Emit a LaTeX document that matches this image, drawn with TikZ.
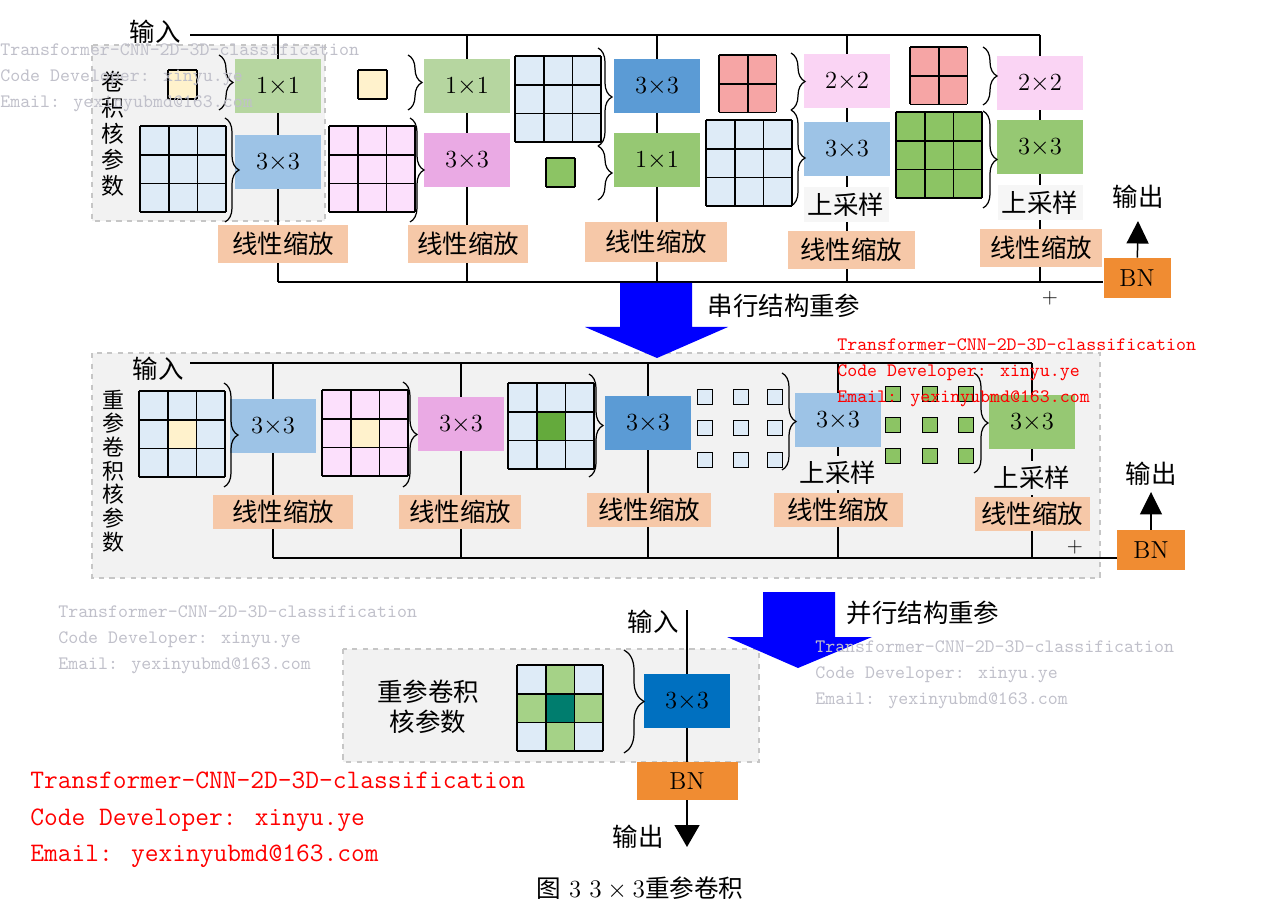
\documentclass[tikz,border=0pt]{standalone}
\usepackage{fontspec}
\usepackage{xcolor}
\newfontfamily\cjk{Noto Sans CJK SC}
\usetikzlibrary{arrows.meta}
\usetikzlibrary{backgrounds}
\usetikzlibrary{decorations.pathreplacing}

\definecolor{lgreen}{RGB}{182,214,160}
\definecolor{mgreen}{RGB}{150,200,115}
\definecolor{lblue}{RGB}{157,195,230}
\definecolor{mblue}{RGB}{91,155,213}
\definecolor{dblue}{RGB}{0,112,192}
\definecolor{orchid}{RGB}{234,170,228}
\definecolor{lpink}{RGB}{250,212,244}
\definecolor{peach}{RGB}{246,200,168}
\definecolor{bnorange}{RGB}{240,140,50}
\definecolor{kblue}{RGB}{222,235,247}
\definecolor{kpink}{RGB}{252,224,252}
\definecolor{kyellow}{RGB}{255,242,204}
\definecolor{kred}{RGB}{246,165,165}
\definecolor{kgreen}{RGB}{140,196,100}
\definecolor{kdgreen}{RGB}{100,170,60}
\definecolor{kteal}{RGB}{0,125,110}
\definecolor{kcross}{RGB}{165,210,135}
\definecolor{panelgray}{RGB}{242,242,242}
\definecolor{upgray}{RGB}{246,246,246}
\definecolor{wmgray}{RGB}{192,192,202}
\definecolor{arrblue}{RGB}{0,0,255}

% kernel grid: x, y (top left), cells, fill
\newcommand{\kgrid}[4]{%
  \fill[#4] (#1,#2) rectangle ++(#3*28.7,#3*28.7);
  \foreach \ii in {0,...,#3}{
    \draw[gline] (#1+\ii*28.7,#2) -- ++(0,#3*28.7);
    \draw[gline] (#1,#2+\ii*28.7) -- ++(#3*28.7,0);
  }}
% one coloured cell of a grid: x, y, column, row, fill
\newcommand{\kcell}[5]{\draw[gline,fill=#5] (#1+#3*28.7,#2+#4*28.7) rectangle ++(28.7,28.7);}

\begin{document}
\begin{tikzpicture}[x=0.02cm, y=-0.02cm,
  font=\fontsize{14pt}{17pt}\selectfont,
  op/.style={minimum width=1.73cm, minimum height=1.08cm, inner sep=0pt},
  zh/.style={font=\cjk\fontsize{14.5pt}{17pt}\selectfont, inner sep=0pt},
  scl/.style={zh, fill=peach, minimum height=0.76cm},
  up/.style={zh, minimum width=1.7cm, minimum height=0.7cm},
  bnbox/.style={fill=bnorange, minimum height=0.8cm, inner sep=0pt},
  bus/.style={line width=0.85pt},
  gline/.style={line width=1pt},
  brc/.style={decorate, decoration={brace, amplitude=0.28cm}, line width=0.7pt},
  panel/.style={fill=panelgray, draw=gray!45, dashed, line width=0.8pt},
  wm/.style={font=\ttfamily\fontsize{10.8pt}{14.8pt}\selectfont, anchor=west, align=left, inner sep=0pt},
  outarrow/.style={bus, -{Triangle[width=0.44cm,length=0.45cm]}}]
\useasboundingbox (0,0) rectangle (1267,911);

\begin{pgfonlayer}{background}
\draw[panel] (92,45) rectangle (325,221);
\draw[panel] (92,353) rectangle (1100,578);
\draw[panel] (343,649) rectangle (759,762);
\end{pgfonlayer}

% series structure
\kgrid{168}{70}{1}{kyellow}
\kgrid{140}{126}{3}{kblue}
\kgrid{358}{70}{1}{kyellow}
\kgrid{329}{126}{3}{kpink}
\kgrid{515}{56}{3}{kblue}
\kgrid{546}{158}{1}{kgreen}
\kgrid{719}{55}{2}{kred}
\kgrid{706}{120}{3}{kblue}
\kgrid{910}{47}{2}{kred}
\kgrid{896}{112}{3}{kgreen}

\node[op, fill=lgreen] (a11) at (278,86) {1$\times$1};
\node[op, fill=lblue] (a12) at (278,162) {3$\times$3};
\node[scl, minimum width=2.6cm] (s1) at (283,244) {线性缩放};
\node[op, fill=lgreen] (a21) at (467,86) {1$\times$1};
\node[op, fill=orchid] (a22) at (467,160) {3$\times$3};
\node[scl, minimum width=2.4cm] (s2) at (468,244) {线性缩放};
\node[op, fill=mblue] (a31) at (657,86) {3$\times$3};
\node[op, fill=mgreen] (a32) at (657,160) {1$\times$1};
\node[scl, minimum width=2.86cm, minimum height=0.8cm] (s3) at (656,242) {线性缩放};
\node[op, fill=lpink] (a41) at (847,81) {2$\times$2};
\node[op, fill=lblue] (a42) at (847,149) {3$\times$3};
\node[up, fill=upgray] (u4) at (846,205) {上采样};
\node[scl, minimum width=2.54cm] (s4) at (851,250) {线性缩放};
\node[op, fill=lpink] (a51) at (1040,83) {2$\times$2};
\node[op, fill=mgreen] (a52) at (1040,147) {3$\times$3};
\node[up, fill=upgray] (u5) at (1040,203) {上采样};
\node[scl, minimum width=2.44cm] (s5) at (1041,248) {线性缩放};
\node[bnbox, minimum width=1.34cm] (bn1) at (1137,278) {BN};

\draw[brc] (219,55) -- (219,110);
\draw[brc] (225,118) -- (225,222);
\draw[brc] (408,55) -- (408,110);
\draw[brc] (410,118) -- (410,222);
\draw[brc] (598,48) -- (598,146);
\draw[brc] (598,146) -- (598,200);
\draw[brc] (791,53) -- (791,110);
\draw[brc] (791,110) -- (791,206);
\draw[brc] (983,47) -- (983,105);
\draw[brc] (983,111) -- (983,208);

\node[zh] (inp1) at (155,32) {输入};
\node[zh, align=center, font=\cjk\fontsize{13pt}{14.8pt}\selectfont] (lab1) at (113,134) {卷\\积\\核\\参\\数};
\node[zh] (out1) at (1138,197) {输出};
\node[font=\fontsize{12pt}{14pt}\selectfont] (plus1) at (1050,298) {$+$};
\coordinate (in1) at (190,35);
\coordinate (o1) at (1138,221);
\foreach \x [count=\i] in {278,467,657,847,1040} {
  \coordinate (u\i) at (\x,35);
  \coordinate (d\i) at (\x,282);
}
\begin{pgfonlayer}{background}
\draw[bus] (in1) -- (u5);
\foreach \i in {1,...,5} \draw[bus] (u\i) -- (d\i);
\draw[bus] (d1) -- (d1 -| bn1.west);
\end{pgfonlayer}
\draw[outarrow] (bn1) -- (o1);

\fill[arrblue] (620,283) -- (692,283) -- (692,327) -- (728,327) -- (657,358)
  -- (585,327) -- (620,327) -- cycle;
\node[zh] (ser) at (784,306) {串行结构重参};

% merged series kernels
\kgrid{139}{391}{3}{kblue}
\kcell{139}{391}{1}{1}{kyellow}
\kgrid{322}{390}{3}{kpink}
\kcell{322}{390}{1}{1}{kyellow}
\kgrid{508}{383}{3}{kblue}
\kcell{508}{383}{1}{1}{kdgreen}
\foreach \x in {705,741,775}
  \foreach \y in {397,428,460}
    \draw[gline, fill=kblue] (\x-7.5,\y-7.5) rectangle ++(15,15);
\foreach \x in {893,930,966}
  \foreach \y in {394,425,456}
    \draw[gline, fill=kgreen] (\x-7.5,\y-7.5) rectangle ++(15,15);

\node[op, fill=lblue] (b1) at (273,426) {3$\times$3};
\node[scl, minimum width=2.8cm, minimum height=0.7cm] (t1) at (283,512) {线性缩放};
\node[op, fill=orchid] (b2) at (461,424) {3$\times$3};
\node[scl, minimum width=2.44cm, minimum height=0.7cm] (t2) at (460,512) {线性缩放};
\node[op, fill=mblue] (b3) at (648,423) {3$\times$3};
\node[scl, minimum width=2.48cm, minimum height=0.7cm] (t3) at (649,510) {线性缩放};
\node[op, fill=lblue] (b4) at (838,420) {3$\times$3};
\node[up, fill=panelgray] (v4) at (838,473) {上采样};
\node[scl, minimum width=2.58cm, minimum height=0.7cm] (t4) at (838,510) {线性缩放};
\node[op, fill=mgreen] (b5) at (1032,422) {3$\times$3};
\node[up, fill=panelgray] (v5) at (1032,478) {上采样};
\node[scl, minimum width=2.3cm, minimum height=0.7cm] (t5) at (1032,514) {线性缩放};
\node[bnbox, minimum width=1.36cm] (bn2) at (1151,550) {BN};

\draw[brc] (224,383) -- (224,487);
\draw[brc] (403,382) -- (403,487);
\draw[brc] (589,374) -- (589,477);
\draw[brc] (782,373) -- (782,470);
\draw[brc] (974,373) -- (974,473);

\node[zh] (inp2) at (158,369) {输入};
\node[zh, align=center, font=\cjk\fontsize{12.5pt}{13.5pt}\selectfont] (lab2) at (113,471) {重\\参\\卷\\积\\核\\参\\数};
\node[zh] (out2) at (1151,474) {输出};
\node[font=\fontsize{12pt}{14pt}\selectfont] (plus2) at (1075,547) {$+$};
\coordinate (in2) at (190,363);
\coordinate (o2) at (1151,492);
\foreach \x [count=\i] in {273,461,648,838,1032} {
  \coordinate (p\i) at (\x,363);
  \coordinate (q\i) at (\x,558);
}
\begin{pgfonlayer}{background}
\draw[bus] (in2) -- (p5);
\foreach \i in {1,...,5} \draw[bus] (p\i) -- (q\i);
\draw[bus] (q1) -- (q1 -| bn2.west);
\end{pgfonlayer}
\draw[outarrow] (bn2) -- (o2);

\fill[arrblue] (763,592) -- (835,592) -- (835,637) -- (872,637) -- (798,668)
  -- (727,637) -- (763,637) -- cycle;
\node[zh] (par) at (923,613) {并行结构重参};

% parallel merge
\kgrid{517}{665}{3}{kblue}
\kcell{517}{665}{1}{0}{kcross}
\kcell{517}{665}{0}{1}{kcross}
\kcell{517}{665}{2}{1}{kcross}
\kcell{517}{665}{1}{2}{kcross}
\kcell{517}{665}{1}{1}{kteal}
\node[op, fill=dblue] (c1) at (687,701) {3$\times$3};
\node[bnbox, minimum width=2.02cm, minimum height=0.76cm] (bn3) at (687,781) {BN};
\draw[brc, decoration={amplitude=0.4cm}] (624,650) -- (624,753);
\node[zh, align=center] (lab3) at (428,707) {重参卷积\\核参数};
\node[zh] (inp3) at (653,622) {输入};
\node[zh] (out3) at (638,837) {输出};
\coordinate (in3) at (687,610);
\coordinate (o3) at (687,847);
\begin{pgfonlayer}{background}
\draw[bus] (in3) -- (bn3);
\end{pgfonlayer}
\draw[outarrow, -{Triangle[width=0.5cm,length=0.44cm]}] (bn3) -- (o3);

\node (cap) at (640,888) {{\cjk 图} 3 $3\times3${\cjk 重参卷积}};

\node[wm, text=wmgray] (w1) at (0,78) {Transformer-CNN-2D-3D-classification\\Code Developer: xinyu.ye\\Email: yexinyubmd@163.com};
\node[wm, text=red] (w2) at (837,373) {Transformer-CNN-2D-3D-classification\\Code Developer: xinyu.ye\\Email: yexinyubmd@163.com};
\node[wm, text=wmgray] (w3) at (58,640) {Transformer-CNN-2D-3D-classification\\Code Developer: xinyu.ye\\Email: yexinyubmd@163.com};
\node[wm, text=wmgray] (w4) at (815,675) {Transformer-CNN-2D-3D-classification\\Code Developer: xinyu.ye\\Email: yexinyubmd@163.com};
\node[wm, text=red, font=\ttfamily\fontsize{15.2pt}{20.8pt}\selectfont] (w5) at (30,820) {Transformer-CNN-2D-3D-classification\\Code Developer: xinyu.ye\\Email: yexinyubmd@163.com};
\end{tikzpicture}
\end{document}
